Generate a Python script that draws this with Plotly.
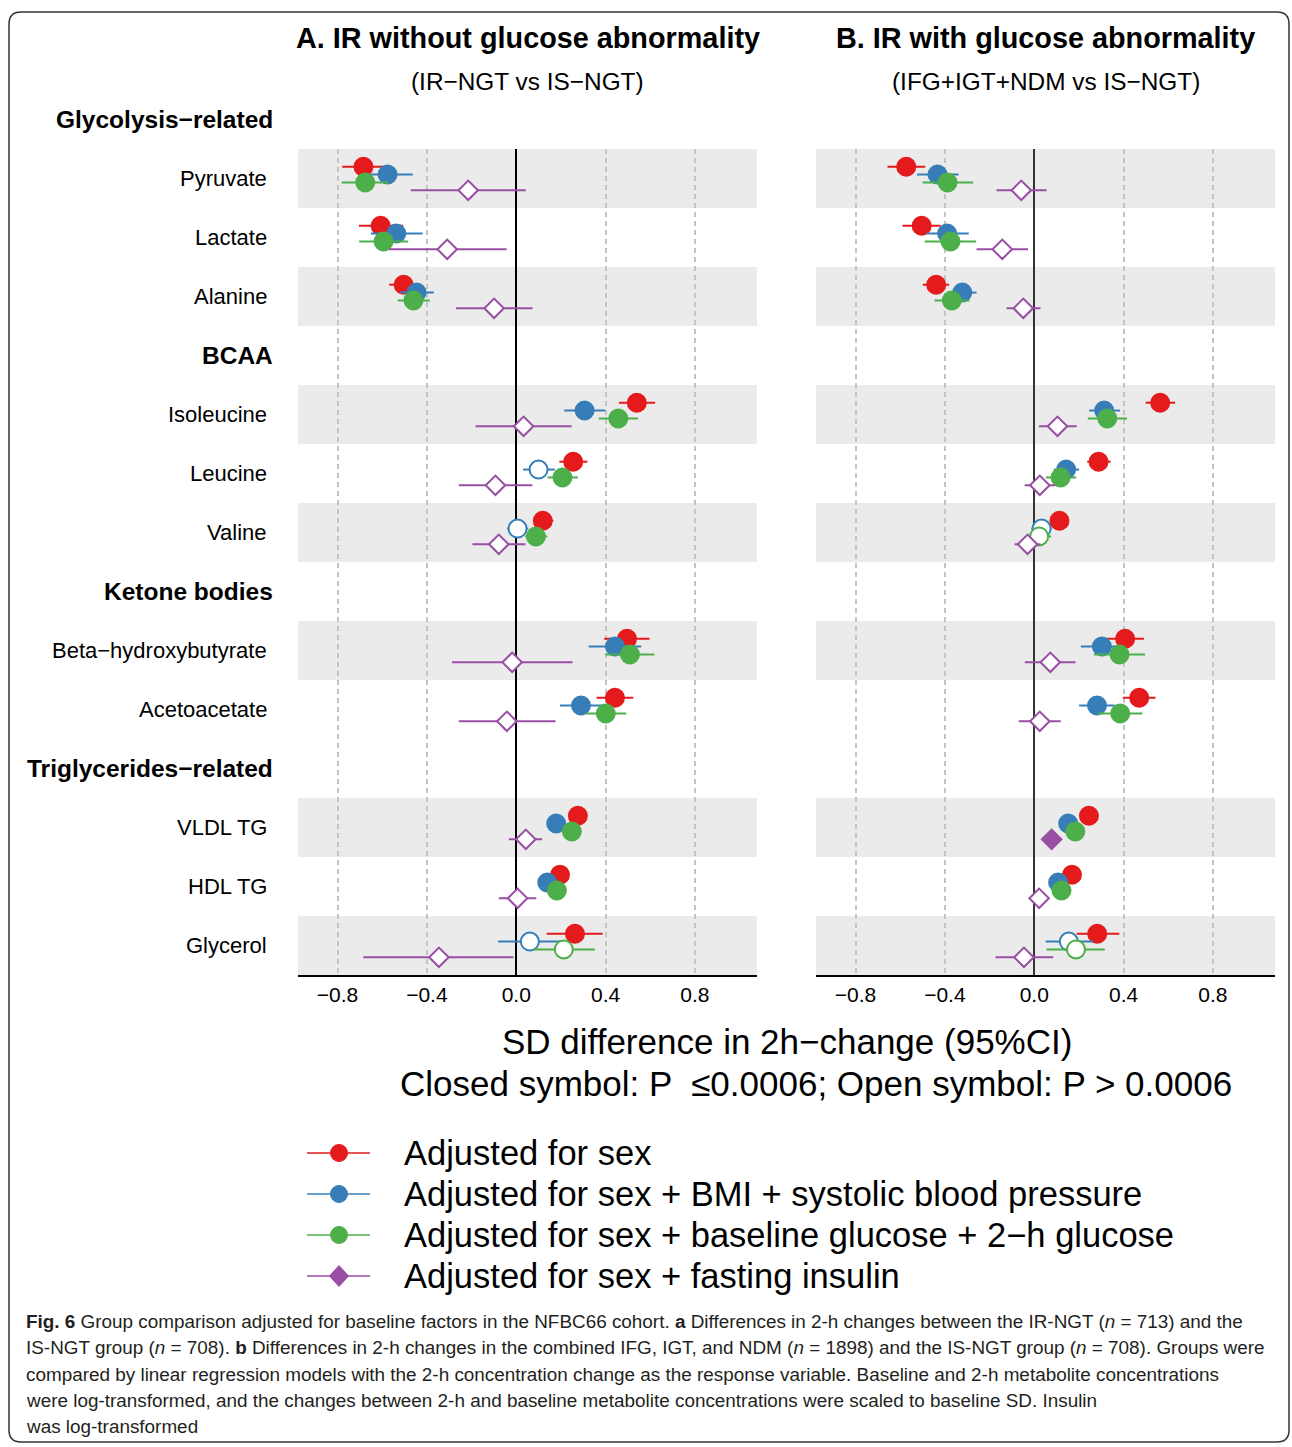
import plotly.graph_objects as go

W, H = 1292, 1447
FONT = "Liberation Sans, Arial, Helvetica, sans-serif"

# ---------------- data ----------------
group_headers = ["Glycolysis−related", "BCAA", "Ketone bodies", "Triglycerides−related"]
group_sizes = [3, 3, 2, 3]
metabolites = ["Pyruvate", "Lactate", "Alanine",
               "Isoleucine", "Leucine", "Valine",
               "Beta−hydroxybutyrate", "Acetoacetate",
               "VLDL TG", "HDL TG", "Glycerol"]

series_names = ["Adjusted for sex",
                "Adjusted for sex + BMI + systolic blood pressure",
                "Adjusted for sex + baseline glucose + 2−h glucose",
                "Adjusted for sex + fasting insulin"]
series_colors = ["#E41A1C", "#377EB8", "#4DAF4A", "#984EA3"]
series_symbols = ["circle", "circle", "circle", "diamond"]

panel_titles = ["A. IR without glucose abnormality", "B. IR with glucose abnormality"]
panel_subtitles = ["(IR−NGT vs IS−NGT)", "(IFG+IGT+NDM vs IS−NGT)"]
x_ticks = [-0.8, -0.4, 0.0, 0.4, 0.8]

# Panel A : IR-NGT vs IS-NGT
a_sex_est = [-0.684, -0.607, -0.504, 0.540, 0.255, 0.119, 0.496, 0.442, 0.276, 0.196, 0.263]
a_sex_lo  = [-0.779, -0.704, -0.569, 0.460, 0.193, 0.076, 0.394, 0.360, 0.240, 0.160, 0.136]
a_sex_hi  = [-0.585, -0.506, -0.439, 0.622, 0.319, 0.166, 0.597, 0.524, 0.310, 0.230, 0.387]
a_sex_sig = [1, 1, 1, 1, 1, 1, 1, 1, 1, 1, 1]

a_bmi_est = [-0.576, -0.537, -0.446, 0.306, 0.100, 0.006, 0.442, 0.290, 0.179, 0.139, 0.061]
a_bmi_lo  = [-0.689, -0.651, -0.520, 0.215, 0.031, -0.040, 0.324, 0.196, 0.140, 0.100, -0.081]
a_bmi_hi  = [-0.463, -0.419, -0.369, 0.399, 0.173, 0.054, 0.560, 0.385, 0.220, 0.180, 0.203]
a_bmi_sig = [1, 1, 1, 1, 0, 0, 1, 1, 1, 1, 0]

a_glu_est = [-0.676, -0.594, -0.460, 0.457, 0.207, 0.088, 0.509, 0.401, 0.249, 0.182, 0.213]
a_glu_lo  = [-0.782, -0.703, -0.531, 0.370, 0.140, 0.040, 0.399, 0.312, 0.210, 0.140, 0.076]
a_glu_hi  = [-0.570, -0.485, -0.387, 0.545, 0.276, 0.139, 0.619, 0.493, 0.290, 0.220, 0.352]
a_glu_sig = [1, 1, 1, 1, 1, 1, 1, 1, 1, 1, 0]

a_ins_est = [-0.215, -0.309, -0.099, 0.033, -0.093, -0.078, -0.018, -0.042, 0.043, 0.006, -0.346]
a_ins_lo  = [-0.472, -0.570, -0.270, -0.182, -0.257, -0.196, -0.288, -0.257, -0.033, -0.078, -0.685]
a_ins_hi  = [0.043, -0.043, 0.073, 0.248, 0.072, 0.042, 0.252, 0.176, 0.116, 0.090, -0.013]
a_ins_sig = [0, 0, 0, 0, 0, 0, 0, 0, 0, 0, 0]

# Panel B : IFG+IGT+NDM vs IS-NGT
b_sex_est = [-0.573, -0.504, -0.439, 0.564, 0.288, 0.113, 0.407, 0.470, 0.245, 0.169, 0.282]
b_sex_lo  = [-0.657, -0.590, -0.499, 0.499, 0.237, 0.080, 0.324, 0.397, 0.210, 0.135, 0.190]
b_sex_hi  = [-0.488, -0.419, -0.381, 0.631, 0.342, 0.150, 0.491, 0.543, 0.280, 0.205, 0.381]
b_sex_sig = [1, 1, 1, 1, 1, 1, 1, 1, 1, 1, 1]

b_bmi_est = [-0.433, -0.390, -0.322, 0.313, 0.143, 0.033, 0.303, 0.281, 0.152, 0.107, 0.155]
b_bmi_lo  = [-0.525, -0.482, -0.387, 0.246, 0.088, -0.013, 0.209, 0.201, 0.115, 0.070, 0.051]
b_bmi_hi  = [-0.339, -0.293, -0.258, 0.384, 0.201, 0.079, 0.396, 0.360, 0.190, 0.145, 0.264]
b_bmi_sig = [1, 1, 1, 1, 1, 0, 1, 1, 1, 1, 0]

b_glu_est = [-0.388, -0.375, -0.369, 0.327, 0.118, 0.022, 0.382, 0.385, 0.184, 0.122, 0.187]
b_glu_lo  = [-0.500, -0.490, -0.446, 0.240, 0.052, -0.024, 0.267, 0.285, 0.145, 0.085, 0.055]
b_glu_hi  = [-0.273, -0.260, -0.290, 0.415, 0.188, 0.076, 0.496, 0.484, 0.225, 0.160, 0.316]
b_glu_sig = [1, 1, 1, 1, 1, 0, 1, 1, 1, 1, 0]

b_ins_est = [-0.058, -0.143, -0.049, 0.104, 0.025, -0.030, 0.072, 0.025, 0.078, 0.022, -0.046]
b_ins_lo  = [-0.169, -0.258, -0.124, 0.021, -0.043, -0.088, -0.042, -0.069, 0.050, -0.015, -0.173]
b_ins_hi  = [0.055, -0.028, 0.028, 0.190, 0.094, 0.028, 0.185, 0.119, 0.106, 0.058, 0.085]
b_ins_sig = [0, 0, 0, 0, 0, 0, 0, 0, 1, 0, 0]

caption_lines = [
    "<b>Fig. 6</b> Group comparison adjusted for baseline factors in the NFBC66 cohort. <b>a</b> Differences in 2-h changes between the IR-NGT (<i>n</i> = 713) and the",
    "IS-NGT group (<i>n</i> = 708). <b>b</b> Differences in 2-h changes in the combined IFG, IGT, and NDM (<i>n</i> = 1898) and the IS-NGT group (<i>n</i> = 708). Groups were",
    "compared by linear regression models with the 2-h concentration change as the response variable. Baseline and 2-h metabolite concentrations",
    "were log-transformed, and the changes between 2-h and baseline metabolite concentrations were scaled to baseline SD. Insulin",
    "was log-transformed",
]

panels = [
    [(a_sex_est, a_sex_lo, a_sex_hi, a_sex_sig), (a_bmi_est, a_bmi_lo, a_bmi_hi, a_bmi_sig),
     (a_glu_est, a_glu_lo, a_glu_hi, a_glu_sig), (a_ins_est, a_ins_lo, a_ins_hi, a_ins_sig)],
    [(b_sex_est, b_sex_lo, b_sex_hi, b_sex_sig), (b_bmi_est, b_bmi_lo, b_bmi_hi, b_bmi_sig),
     (b_glu_est, b_glu_lo, b_glu_hi, b_glu_sig), (b_ins_est, b_ins_lo, b_ins_hi, b_ins_sig)],
]

# ---------------- layout helpers ----------------
def px(x):
    return x / W

def py(y):
    return 1 - y / H

# slot positions (header slots take one row each)
header_slots, row_slots, band_slots = [], [], []
slot = -1
for gi, n in enumerate(group_sizes):
    header_slots.append(slot)
    slot += 1
    for i in range(n):
        row_slots.append(slot)
        if i % 2 == 0:
            band_slots.append(slot)
        slot += 1
n_slots = slot  # 14
y_range = [n_slots - 0.5, -0.5]

def slot_to_dom(s):
    return (n_slots - 0.5 - s) / n_slots

dodge = [-0.2, -0.067, 0.067, 0.2]
x_range = [-0.977, 1.078]
x_domains = [[px(298), px(757)], [px(816), px(1275)]]
y_domain = [py(975), py(149)]

fig = go.Figure()

for p, panel in enumerate(panels):
    xa = "x" if p == 0 else "x2"
    ya = "y" if p == 0 else "y2"
    for s, (est, lo, hi, sig) in enumerate(panel):
        col = series_colors[s]
        fig.add_trace(go.Scatter(
            x=est,
            y=[r + dodge[s] for r in row_slots],
            xaxis=xa, yaxis=ya,
            mode="markers",
            showlegend=False,
            name=series_names[s],
            error_x=dict(type="data", symmetric=False,
                         array=[h - e for h, e in zip(hi, est)],
                         arrayminus=[e - l for e, l in zip(est, lo)],
                         color=col, thickness=2, width=0),
            marker=dict(symbol=series_symbols[s],
                        size=18 if series_symbols[s] == "circle" else 15,
                        color=[col if g else "white" for g in sig],
                        line=dict(color=col, width=2)),
            cliponaxis=False,
        ))

shapes = []
annotations = []

axis_common = dict(
    range=x_range, tickvals=x_ticks, tickformat=".1f",
    showgrid=True, gridcolor="#C4C4C4", gridwidth=1.5, griddash="5px,4px",
    zeroline=True, zerolinewidth=2.2,
    showline=True, linecolor="black", linewidth=2,
    ticks="", ticklabelstandoff=0,
    tickfont=dict(family=FONT, size=21, color="black"),
    fixedrange=True,
)
fig.update_layout(
    xaxis=dict(domain=x_domains[0], anchor="y", zerolinecolor="black", **axis_common),
    xaxis2=dict(domain=x_domains[1], anchor="y2", zerolinecolor="#333333", **axis_common),
    yaxis=dict(domain=y_domain, range=y_range, anchor="x", visible=False, fixedrange=True),
    yaxis2=dict(domain=y_domain, range=y_range, anchor="x2", visible=False, fixedrange=True),
)

# grey bands
for p in range(2):
    xr = "x domain" if p == 0 else "x2 domain"
    yr = "y" if p == 0 else "y2"
    for b in band_slots:
        shapes.append(dict(type="rect", xref=xr, yref=yr, x0=0, x1=1, y0=b - 0.5, y1=b + 0.5,
                           fillcolor="#EBEBEB", line=dict(width=0), layer="below"))

# panel titles
for p in range(2):
    xr = "x domain" if p == 0 else "x2 domain"
    annotations.append(dict(text="<b>" + panel_titles[p] + "</b>", xref=xr, yref="paper",
                            x=0.5, y=py(38), xanchor="center", yanchor="middle", showarrow=False,
                            font=dict(family=FONT, size=28.8, color="black")))
    annotations.append(dict(text=panel_subtitles[p], xref=xr, yref="paper",
                            x=0.5, y=py(81), xanchor="center", yanchor="middle", showarrow=False,
                            font=dict(family=FONT, size=24.4, color="black")))

# group headers and row labels
for g, s in zip(group_headers, header_slots):
    annotations.append(dict(text="<b>" + g + "</b>", xref="paper", yref="y domain",
                            x=px(275), y=slot_to_dom(s), xanchor="right", yanchor="middle",
                            showarrow=False, font=dict(family=FONT, size=24.5, color="black")))
for m, s in zip(metabolites, row_slots):
    annotations.append(dict(text=m, xref="paper", yref="y domain",
                            x=px(269), y=slot_to_dom(s), xanchor="right", yanchor="middle",
                            showarrow=False, font=dict(family=FONT, size=22, color="black")))

# common x-axis title
annotations.append(dict(text="SD difference in 2h−change (95%CI)", xref="paper", yref="paper",
                        x=(x_domains[0][0] + x_domains[1][1]) / 2, y=py(1041),
                        xanchor="center", yanchor="middle", showarrow=False,
                        font=dict(family=FONT, size=35, color="black")))
annotations.append(dict(text="Closed symbol: P \u00a0≤0.0006; Open symbol: P &gt; 0.0006",
                        xref="paper", yref="paper", x=px(816), y=py(1083),
                        xanchor="center", yanchor="middle", showarrow=False,
                        font=dict(family=FONT, size=35, color="black")))

# legend (keys + labels)
leg_y0, leg_dy = 1153, 41
leg_x0, leg_x1, leg_xm, leg_tx = 307, 370, 339, 402
for s, name in enumerate(series_names):
    yy = leg_y0 + s * leg_dy
    col = series_colors[s]
    shapes.append(dict(type="line", xref="paper", yref="paper",
                       x0=px(leg_x0), x1=px(leg_x1), y0=py(yy), y1=py(yy),
                       line=dict(color=col, width=1.5)))
    if series_symbols[s] == "circle":
        r = 8.5
        shapes.append(dict(type="circle", xref="paper", yref="paper",
                           x0=px(leg_xm - r), x1=px(leg_xm + r), y0=py(yy + r), y1=py(yy - r),
                           fillcolor=col, line=dict(color=col, width=1)))
    else:
        rx, ry = 9.5, 10.5
        path = (f"M{px(leg_xm - rx)},{py(yy)} L{px(leg_xm)},{py(yy - ry)} "
                f"L{px(leg_xm + rx)},{py(yy)} L{px(leg_xm)},{py(yy + ry)} Z")
        shapes.append(dict(type="path", xref="paper", yref="paper", path=path,
                           fillcolor=col, line=dict(color=col, width=1)))
    annotations.append(dict(text=name, xref="paper", yref="paper", x=px(leg_tx), y=py(yy),
                            xanchor="left", yanchor="middle", showarrow=False,
                            font=dict(family=FONT, size=34.5, color="black")))

# caption
cap_y = [1321, 1347, 1374, 1400, 1426]
for line, yy in zip(caption_lines, cap_y):
    annotations.append(dict(text=line, xref="paper", yref="paper", x=px(24), y=py(yy),
                            xanchor="left", yanchor="middle", showarrow=False,
                            font=dict(family=FONT, size=18.9, color="#231F20")))

# rounded outer frame
L, T, R, B, rc = 9, 12, 1289, 1442, 12
frame = (f"M{px(L + rc)},{py(T)} L{px(R - rc)},{py(T)} Q{px(R)},{py(T)} {px(R)},{py(T + rc)} "
         f"L{px(R)},{py(B - rc)} Q{px(R)},{py(B)} {px(R - rc)},{py(B)} "
         f"L{px(L + rc)},{py(B)} Q{px(L)},{py(B)} {px(L)},{py(B - rc)} "
         f"L{px(L)},{py(T + rc)} Q{px(L)},{py(T)} {px(L + rc)},{py(T)} Z")
shapes.append(dict(type="path", xref="paper", yref="paper", path=frame,
                   line=dict(color="#333333", width=1.5), fillcolor="rgba(0,0,0,0)"))

fig.update_layout(
    width=W, height=H, autosize=False,
    margin=dict(l=0, r=0, t=0, b=0, pad=0),
    paper_bgcolor="white", plot_bgcolor="rgba(0,0,0,0)",
    shapes=shapes, annotations=annotations,
    showlegend=False,
    font=dict(family=FONT, color="black"),
)

fig.write_html("out.html",
               config={"displayModeBar": False},
               post_script="document.body.style.margin='0';document.body.style.padding='0';")
